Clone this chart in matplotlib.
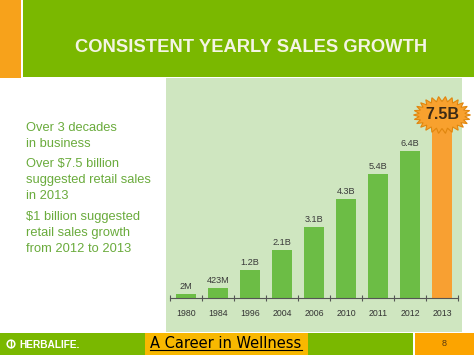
import matplotlib
matplotlib.use('Agg')
import matplotlib.pyplot as plt
import numpy as np
from matplotlib.patches import Rectangle, Polygon, Circle
import matplotlib.transforms as mtransforms

# ---- data ----
years = ['1980', '1984', '1996', '2004', '2006', '2010', '2011', '2012', '2013']
sales_b = [0.002, 0.423, 1.2, 2.1, 3.1, 4.3, 5.4, 6.4, 7.5]
value_labels = ['2M', '423M', '1.2B', '2.1B', '3.1B', '4.3B', '5.4B', '6.4B', '7.5B']
bullet_lines = [
    ["Over 3 decades", "in business"],
    ["Over $7.5 billion", "suggested retail sales", "in 2013"],
    ["$1 billion suggested", "retail sales growth", "from 2012 to 2013"],
]
title = "CONSISTENT YEARLY SALES GROWTH"
footer = "A Career in Wellness"
brand = "HERBALIFE."
page = "8"

# ---- style ----
W, H = 474, 355
FONT = 'Liberation Sans'
GREEN_HDR = '#7ab800'
ORANGE = '#f7a21b'
PANEL = '#cfe6c0'
BAR_GREEN = '#6cbd45'
BAR_ORANGE = '#f8a032'
TEXT_GREEN = '#6aab3c'

fig = plt.figure(figsize=(W / 100, H / 100), dpi=100)
fig.patch.set_facecolor('white')

bg = fig.add_axes([0, 0, 1, 1])
bg.set_xlim(0, W)
bg.set_ylim(H, 0)
bg.axis('off')

def rect(x, y, w, h, c):
    bg.add_patch(Rectangle((x, y), w, h, facecolor=c, edgecolor='none'))

rect(0, 0, 21, 78, ORANGE)
rect(23, 0, 451, 77, GREEN_HDR)
rect(166, 78, 296, 254, PANEL)
rect(0, 333, 413, 22, GREEN_HDR)
rect(415, 333, 59, 22, '#fca400')
rect(145, 333, 163, 22, '#f8b800')

bg.text(251, 48, title, ha='center', va='center', fontsize=13.2,
        fontweight='bold', color='#f4f4e4', family=FONT)

# left bullet text
y = 130.7
for gi, grp in enumerate(bullet_lines):
    if gi > 0:
        y += 20.5
    for li, line in enumerate(grp):
        if li > 0:
            y += 16
        bg.text(26, y, line, ha='left', va='baseline', fontsize=9.3,
                color=TEXT_GREEN, family=FONT)

# footer
bg.text(226, 343, footer, ha='center', va='center', fontsize=10.5,
        color='black', family='DejaVu Sans')
bg.plot([150, 302], [350, 350], color='black', lw=0.8)
bg.add_patch(Circle((11, 344), 3.8, facecolor='none', edgecolor='white', lw=1.1))
bg.plot([11, 11], [341, 347], color='white', lw=1.0)
bg.text(19, 344.5, brand, ha='left', va='center', fontsize=7.3,
        fontweight='bold', color='white', family=FONT)
bg.text(444, 344, page, ha='center', va='center', fontsize=6.5,
        color='#5a3a10', family=FONT)

# ---- chart ----
px_per_b = 23.0
base_px, top_px = 298, 90
ax = fig.add_axes([170 / W, (H - base_px) / H, 288 / W, (base_px - top_px) / H])
ax.set_facecolor('none')
ax.set_xlim(-0.5, 8.5)
ax.set_ylim(0, (base_px - top_px) / px_per_b)

x = np.arange(len(years))
heights = np.maximum(np.array(sales_b), 0.17)
colors = [BAR_GREEN] * (len(years) - 1) + [BAR_ORANGE]
ax.bar(x, heights, width=0.6, color=colors, zorder=2)

for i in range(len(years) - 1):
    ax.annotate(value_labels[i], (x[i], heights[i]), xytext=(0, 3.6),
                textcoords='offset points', ha='center', va='baseline',
                fontsize=6.6, color='#3a3a3a', family=FONT)

for s in ['top', 'left', 'right']:
    ax.spines[s].set_visible(False)
ax.spines['bottom'].set_color('#555555')
ax.spines['bottom'].set_linewidth(0.8)
ax.set_yticks([])
ax.set_xticks(x)
ax.set_xticklabels(years, fontsize=6.3, color='#333333', family=FONT)
ax.tick_params(axis='x', which='major', length=0, pad=8)
ax.set_xticks(np.arange(-0.5, 9, 1.0), minor=True)
ax.tick_params(axis='x', which='minor', direction='inout', length=5,
               width=0.8, color='#555555')

# starburst for final value
bx, by = ax.transData.transform((x[-1], heights[-1]))
cx, cy = bx, by + 10.5
n = 26
ang = np.linspace(0, 2 * np.pi, 2 * n, endpoint=False)
rx = np.where(np.arange(2 * n) % 2 == 0, 28.5, 23.0)
ry = np.where(np.arange(2 * n) % 2 == 0, 18.5, 13.5)
verts = np.column_stack([cx + rx * np.cos(ang), cy + ry * np.sin(ang)])
star = Polygon(verts, closed=True, facecolor='#f8a12e', edgecolor='#e0860e',
               lw=0.8, transform=mtransforms.IdentityTransform(), zorder=5,
               clip_on=False)
ax.add_artist(star)
ax.text(cx, cy, value_labels[-1], transform=mtransforms.IdentityTransform(),
        ha='center', va='center', fontsize=11.5, fontweight='bold',
        color='#3b2a16', family=FONT, zorder=6)

fig.savefig('out.png', dpi=100)
